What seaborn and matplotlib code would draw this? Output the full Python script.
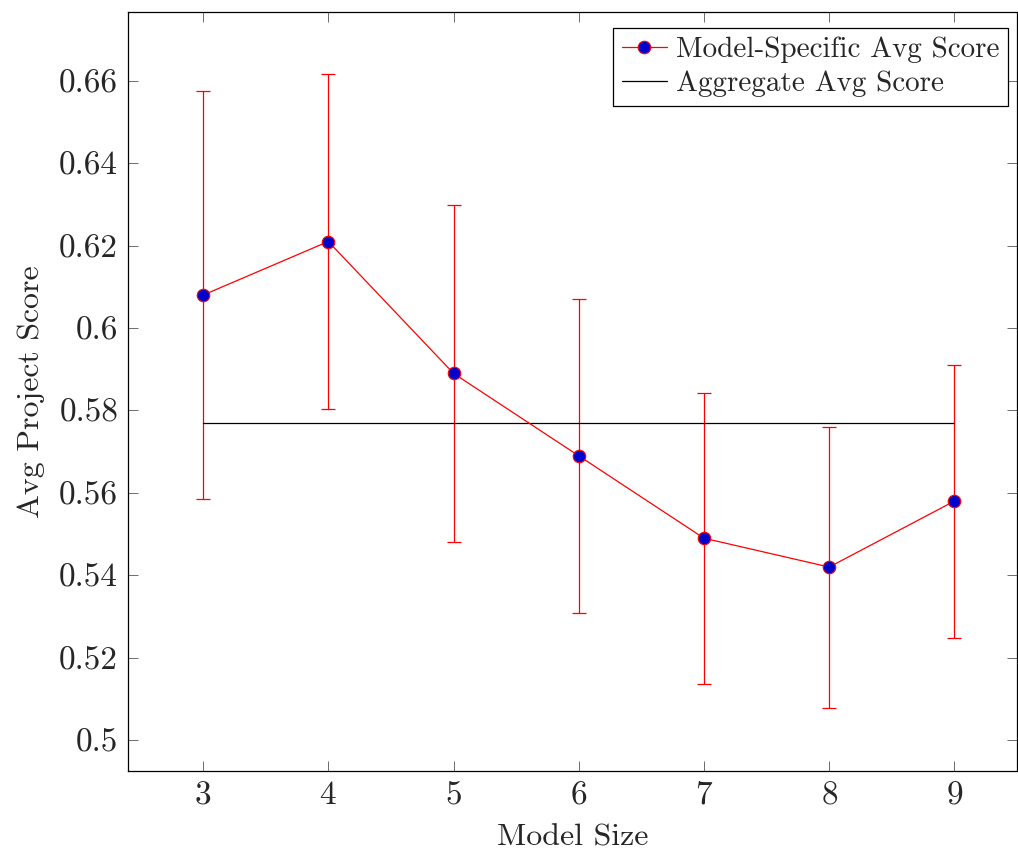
import numpy as np
import pandas as pd
import seaborn as sns
import matplotlib.pyplot as plt

# values
model_size = [3, 4, 5, 6, 7, 8, 9]
avg_score  = [0.608, 0.621, 0.589, 0.569, 0.549, 0.542, 0.558]
err_upper  = [0.6575, 0.6617, 0.6299, 0.6070, 0.5843, 0.5760, 0.5910]
err_lower  = [0.5585, 0.5803, 0.5480, 0.5308, 0.5135, 0.5078, 0.5248]
aggregate  = 0.577

sns.set_style("ticks")
plt.rcParams['font.family'] = ['cmr10', 'DejaVu Serif']
plt.rcParams['axes.formatter.use_mathtext'] = True
plt.rcParams['mathtext.fontset'] = 'cm'

df = pd.DataFrame({"size": model_size, "score": avg_score})
agg = pd.DataFrame({"size": [model_size[0], model_size[-1]], "score": [aggregate, aggregate]})

fig = plt.figure(figsize=(10.18, 8.5), dpi=100)
ax = fig.add_axes([0.1257, 0.0929, 0.8733, 0.893])

yerr = np.array([np.array(avg_score) - np.array(err_lower),
                 np.array(err_upper) - np.array(avg_score)])
ax.errorbar(model_size, avg_score, yerr=yerr, fmt="none", ecolor="red",
            elinewidth=0.9, capsize=5, capthick=0.9, zorder=2)

sns.lineplot(data=df, x="size", y="score", ax=ax, color="red", lw=0.9,
             marker="o", markersize=9, markerfacecolor="#0000cc",
             markeredgecolor="red", markeredgewidth=0.8,
             label="Model-Specific Avg Score", zorder=3)
sns.lineplot(data=agg, x="size", y="score", ax=ax, color="black", lw=0.9,
             label="Aggregate Avg Score", zorder=2)

ax.set_xlim(2.4, 9.5)
ax.set_ylim(0.4925, 0.6767)
ax.set_xticks(model_size)
ax.set_yticks([0.5, 0.52, 0.54, 0.56, 0.58, 0.6, 0.62, 0.64, 0.66])
ax.set_yticklabels(["0.5", "0.52", "0.54", "0.56", "0.58", "0.6", "0.62", "0.64", "0.66"])
ax.tick_params(direction="in", length=7, width=0.6, color="#555555", top=True, right=True,
               labelsize=24, pad=7)
for s in ax.spines.values():
    s.set_linewidth(0.9)
    s.set_color("black")

ax.set_xlabel("Model Size", fontsize=23, labelpad=10)
ax.set_ylabel("Avg Project Score", fontsize=23, labelpad=10)

leg = ax.legend(loc="upper right", fontsize=21, frameon=True, fancybox=False,
                edgecolor="black", framealpha=1, borderpad=0.3,
                handlelength=1.55, handletextpad=0.3, labelspacing=0.25,
                borderaxespad=0, bbox_to_anchor=(0.99, 0.979))
leg.get_frame().set_linewidth(0.9)

fig.savefig("out.png", dpi=100)
